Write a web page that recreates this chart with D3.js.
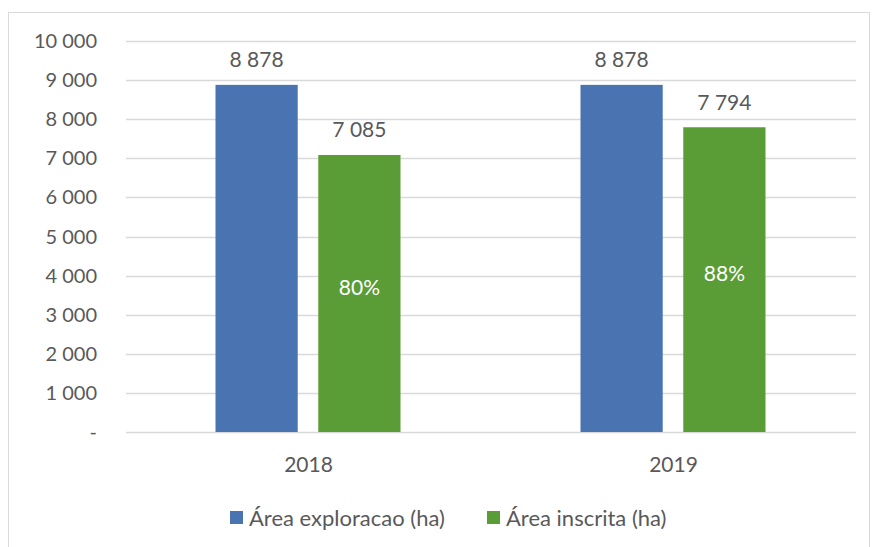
<!DOCTYPE html>
<html>
  <head>
    <script src="https://d3js.org/d3.v7.min.js"></script>
    <style>
      body { margin: 0; background: #fff; }
      text { font-family: Lato, "Open Sans", sans-serif; fill: #595959; }
    </style>
  </head>
  <body>
    <script>
      // chart data
      var years = ["2018", "2019"]
      var series = ["Área exploracao (ha)", "Área inscrita (ha)"]
      var exploracao = [8878, 8878]
      var inscrita = [7085, 7794]
      var shares = ["80%", "88%"]
      var yTicks = [0, 1000, 2000, 3000, 4000, 5000, 6000, 7000, 8000, 9000, 10000]
      var colors = ["#4a74b1", "#5a9c36"]

      var w = 874, h = 547
      var plotLeft = 126, plotRight = 856, plotTop = 41, plotBottom = 432

      var svg = d3.select("body").append("svg")
        .attr("width", w)
        .attr("height", h)

      // outer frame
      svg.append("rect")
        .attr("x", 8.5).attr("y", 12.5)
        .attr("width", 861).attr("height", 540)
        .attr("fill", "none")
        .attr("stroke", "#d9d9d9")

      var x = d3.scaleBand().domain(years).range([plotLeft, plotRight])
      var inner = d3.scaleBand().domain([0, 1]).range([-93, 92]).paddingInner(0.2)
      var y = d3.scaleLinear().domain([0, 10000]).range([plotBottom, plotTop])

      var fmt = function(v) {
        return v == 0 ? "-" : d3.format(",")(v).replace(/,/g, " ")
      }

      // gridlines
      svg.selectAll(".grid")
        .data(yTicks)
        .enter()
        .append("line")
        .attr("x1", plotLeft).attr("x2", plotRight)
        .attr("y1", function(d) { return Math.round(y(d)) + 0.5 })
        .attr("y2", function(d) { return Math.round(y(d)) + 0.5 })
        .attr("stroke", "#d9d9d9")
        .attr("stroke-width", 1.3)

      // y axis labels
      svg.selectAll(".ylab")
        .data(yTicks)
        .enter()
        .append("text")
        .attr("x", 97)
        .attr("y", function(d) { return y(d) })
        .attr("dy", "0.35em")
        .attr("text-anchor", "end")
        .style("font-size", "20px")
        .text(fmt)

      // bars
      var data = [exploracao, inscrita]
      data.forEach(function(vals, s) {
        svg.selectAll(".bar" + s)
          .data(vals)
          .enter()
          .append("rect")
          .attr("x", function(d, i) { return x(years[i]) + x.bandwidth() / 2 + inner(s) })
          .attr("y", function(d) { return y(d) })
          .attr("width", inner.bandwidth())
          .attr("height", function(d) { return plotBottom - y(d) })
          .attr("fill", colors[s])

        svg.selectAll(".val" + s)
          .data(vals)
          .enter()
          .append("text")
          .attr("x", function(d, i) { return x(years[i]) + x.bandwidth() / 2 + inner(s) + inner.bandwidth() / 2 })
          .attr("y", function(d) { return y(d) - 25 })
          .attr("dy", "0.35em")
          .attr("text-anchor", "middle")
          .style("font-size", "21px")
          .text(fmt)
      })

      // percent labels inside green bars
      svg.selectAll(".pct")
        .data(inscrita)
        .enter()
        .append("text")
        .attr("x", function(d, i) { return x(years[i]) + x.bandwidth() / 2 + inner(1) + inner.bandwidth() / 2 })
        .attr("y", function(d) { return (y(d) + plotBottom) / 2 - 6 })
        .attr("dy", "0.35em")
        .attr("text-anchor", "middle")
        .style("font-size", "21px")
        .style("fill", "#fff")
        .text(function(d, i) { return shares[i] })

      // x labels
      svg.selectAll(".xlab")
        .data(years)
        .enter()
        .append("text")
        .attr("x", function(d) { return x(d) + x.bandwidth() / 2 })
        .attr("y", 465)
        .attr("dy", "0.35em")
        .attr("text-anchor", "middle")
        .style("font-size", "21px")
        .text(function(d) { return d })

      // legend
      var legX = [230, 487]
      series.forEach(function(name, s) {
        svg.append("rect")
          .attr("x", legX[s]).attr("y", 511)
          .attr("width", 13).attr("height", 13)
          .attr("fill", colors[s])
        svg.append("text")
          .attr("x", legX[s] + 19).attr("y", 518)
          .attr("dy", "0.35em")
          .style("font-size", "22px")
          .text(name)
      })
    </script>
  </body>
</html>
